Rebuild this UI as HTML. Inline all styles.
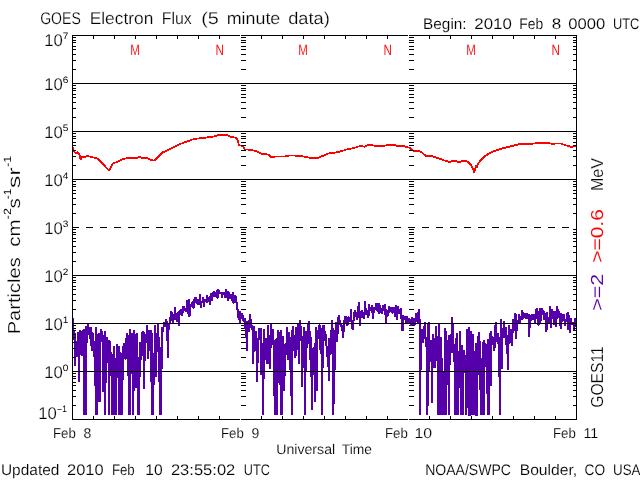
<!DOCTYPE html>
<html><head><meta charset="utf-8"><title>GOES Electron Flux</title>
<style>
html,body{margin:0;padding:0;background:#fff;}
body{width:640px;height:480px;overflow:hidden;font-family:"Liberation Sans",sans-serif;}
svg{display:block;will-change:transform;}
</style></head><body>
<svg width="640" height="480" viewBox="0 0 640 480" shape-rendering="crispEdges">
<rect width="640" height="480" fill="#fff"/>
<polyline points="72.6,146.8 74.1,151.5 76.1,153.5 78.1,152.1 79.7,155.5 80.6,159.6 81.4,157.0 84.2,157.2 87.3,156.0 90.3,156.6 94.4,157.8 98.4,159.0 101.5,162.7 104.5,165.7 107.6,169.0 109.0,170.8 110.6,168.0 112.7,163.7 116.7,162.0 122.8,159.0 128.9,157.8 137.0,158.0 140.1,156.8 142.1,158.0 147.2,157.8 151.3,160.2 154.3,160.6 157.3,157.6 162.4,152.5 171.6,148.4 181.7,143.4 191.9,139.7 196.1,138.7 204.2,137.9 214.4,136.3 220.5,134.6 226.6,134.6 230.6,136.7 236.3,137.8 237.7,140.3 238.8,145.0 242.8,146.2 244.8,149.4 250.9,149.8 257.0,151.5 262.1,154.1 268.2,154.5 271.3,157.0 275.3,156.6 285.5,156.4 289.5,155.5 299.7,155.7 305.8,157.0 311.9,158.0 318.1,157.8 322.2,156.2 328.3,153.5 338.4,152.1 346.6,149.5 354.7,147.8 360.8,145.8 364.4,146.8 368.9,144.8 375.0,145.8 384.1,145.8 388.2,144.8 393.3,144.8 397.3,145.8 403.4,146.0 409.5,147.8 413.6,150.9 420.7,151.5 426.2,156.2 431.9,156.0 437.0,157.8 439.4,158.7 446.0,161.0 450.0,162.0 453.8,160.6 455.6,160.8 458.0,162.3 459.8,162.3 461.7,160.8 465.0,160.8 468.3,162.3 471.1,165.3 473.0,169.0 474.2,172.6 475.5,168.1 476.0,164.8 476.7,167.6 478.1,163.4 480.9,160.2 484.7,156.4 489.4,153.1 495.0,150.8 500.6,148.9 506.2,147.5 512.0,146.0 521.4,143.7 528.4,144.1 535.5,143.4 543.7,142.7 551.9,143.7 560.1,143.4 565.9,145.3 571.8,147.0 575.3,145.8" fill="none" stroke="#ff0000" stroke-width="1.8" stroke-linejoin="bevel"/>
<rect x="241" y="405" width="5" height="1" fill="#000"/>
<rect x="409" y="405" width="5" height="1" fill="#000"/>
<rect x="241" y="396" width="5" height="1" fill="#000"/>
<rect x="409" y="396" width="5" height="1" fill="#000"/>
<rect x="241" y="390" width="5" height="1" fill="#000"/>
<rect x="409" y="390" width="5" height="1" fill="#000"/>
<rect x="241" y="385" width="5" height="1" fill="#000"/>
<rect x="409" y="385" width="5" height="1" fill="#000"/>
<rect x="241" y="382" width="5" height="1" fill="#000"/>
<rect x="409" y="382" width="5" height="1" fill="#000"/>
<rect x="241" y="378" width="5" height="1" fill="#000"/>
<rect x="409" y="378" width="5" height="1" fill="#000"/>
<rect x="241" y="376" width="5" height="1" fill="#000"/>
<rect x="409" y="376" width="5" height="1" fill="#000"/>
<rect x="241" y="373" width="5" height="1" fill="#000"/>
<rect x="409" y="373" width="5" height="1" fill="#000"/>
<rect x="241" y="357" width="5" height="1" fill="#000"/>
<rect x="409" y="357" width="5" height="1" fill="#000"/>
<rect x="241" y="348" width="5" height="1" fill="#000"/>
<rect x="409" y="348" width="5" height="1" fill="#000"/>
<rect x="241" y="342" width="5" height="1" fill="#000"/>
<rect x="409" y="342" width="5" height="1" fill="#000"/>
<rect x="241" y="337" width="5" height="1" fill="#000"/>
<rect x="409" y="337" width="5" height="1" fill="#000"/>
<rect x="241" y="334" width="5" height="1" fill="#000"/>
<rect x="409" y="334" width="5" height="1" fill="#000"/>
<rect x="241" y="330" width="5" height="1" fill="#000"/>
<rect x="409" y="330" width="5" height="1" fill="#000"/>
<rect x="241" y="328" width="5" height="1" fill="#000"/>
<rect x="409" y="328" width="5" height="1" fill="#000"/>
<rect x="241" y="325" width="5" height="1" fill="#000"/>
<rect x="409" y="325" width="5" height="1" fill="#000"/>
<rect x="241" y="309" width="5" height="1" fill="#000"/>
<rect x="409" y="309" width="5" height="1" fill="#000"/>
<rect x="241" y="300" width="5" height="1" fill="#000"/>
<rect x="409" y="300" width="5" height="1" fill="#000"/>
<rect x="241" y="294" width="5" height="1" fill="#000"/>
<rect x="409" y="294" width="5" height="1" fill="#000"/>
<rect x="241" y="289" width="5" height="1" fill="#000"/>
<rect x="409" y="289" width="5" height="1" fill="#000"/>
<rect x="241" y="286" width="5" height="1" fill="#000"/>
<rect x="409" y="286" width="5" height="1" fill="#000"/>
<rect x="241" y="282" width="5" height="1" fill="#000"/>
<rect x="409" y="282" width="5" height="1" fill="#000"/>
<rect x="241" y="280" width="5" height="1" fill="#000"/>
<rect x="409" y="280" width="5" height="1" fill="#000"/>
<rect x="241" y="277" width="5" height="1" fill="#000"/>
<rect x="409" y="277" width="5" height="1" fill="#000"/>
<rect x="241" y="261" width="5" height="1" fill="#000"/>
<rect x="409" y="261" width="5" height="1" fill="#000"/>
<rect x="241" y="252" width="5" height="1" fill="#000"/>
<rect x="409" y="252" width="5" height="1" fill="#000"/>
<rect x="241" y="246" width="5" height="1" fill="#000"/>
<rect x="409" y="246" width="5" height="1" fill="#000"/>
<rect x="241" y="241" width="5" height="1" fill="#000"/>
<rect x="409" y="241" width="5" height="1" fill="#000"/>
<rect x="241" y="238" width="5" height="1" fill="#000"/>
<rect x="409" y="238" width="5" height="1" fill="#000"/>
<rect x="241" y="234" width="5" height="1" fill="#000"/>
<rect x="409" y="234" width="5" height="1" fill="#000"/>
<rect x="241" y="232" width="5" height="1" fill="#000"/>
<rect x="409" y="232" width="5" height="1" fill="#000"/>
<rect x="241" y="229" width="5" height="1" fill="#000"/>
<rect x="409" y="229" width="5" height="1" fill="#000"/>
<rect x="241" y="213" width="5" height="1" fill="#000"/>
<rect x="409" y="213" width="5" height="1" fill="#000"/>
<rect x="241" y="204" width="5" height="1" fill="#000"/>
<rect x="409" y="204" width="5" height="1" fill="#000"/>
<rect x="241" y="198" width="5" height="1" fill="#000"/>
<rect x="409" y="198" width="5" height="1" fill="#000"/>
<rect x="241" y="193" width="5" height="1" fill="#000"/>
<rect x="409" y="193" width="5" height="1" fill="#000"/>
<rect x="241" y="190" width="5" height="1" fill="#000"/>
<rect x="409" y="190" width="5" height="1" fill="#000"/>
<rect x="241" y="186" width="5" height="1" fill="#000"/>
<rect x="409" y="186" width="5" height="1" fill="#000"/>
<rect x="241" y="184" width="5" height="1" fill="#000"/>
<rect x="409" y="184" width="5" height="1" fill="#000"/>
<rect x="241" y="181" width="5" height="1" fill="#000"/>
<rect x="409" y="181" width="5" height="1" fill="#000"/>
<rect x="241" y="165" width="5" height="1" fill="#000"/>
<rect x="409" y="165" width="5" height="1" fill="#000"/>
<rect x="241" y="156" width="5" height="1" fill="#000"/>
<rect x="409" y="156" width="5" height="1" fill="#000"/>
<rect x="241" y="150" width="5" height="1" fill="#000"/>
<rect x="409" y="150" width="5" height="1" fill="#000"/>
<rect x="241" y="145" width="5" height="1" fill="#000"/>
<rect x="409" y="145" width="5" height="1" fill="#000"/>
<rect x="241" y="142" width="5" height="1" fill="#000"/>
<rect x="409" y="142" width="5" height="1" fill="#000"/>
<rect x="241" y="138" width="5" height="1" fill="#000"/>
<rect x="409" y="138" width="5" height="1" fill="#000"/>
<rect x="241" y="136" width="5" height="1" fill="#000"/>
<rect x="409" y="136" width="5" height="1" fill="#000"/>
<rect x="241" y="133" width="5" height="1" fill="#000"/>
<rect x="409" y="133" width="5" height="1" fill="#000"/>
<rect x="241" y="117" width="5" height="1" fill="#000"/>
<rect x="409" y="117" width="5" height="1" fill="#000"/>
<rect x="241" y="108" width="5" height="1" fill="#000"/>
<rect x="409" y="108" width="5" height="1" fill="#000"/>
<rect x="241" y="102" width="5" height="1" fill="#000"/>
<rect x="409" y="102" width="5" height="1" fill="#000"/>
<rect x="241" y="97" width="5" height="1" fill="#000"/>
<rect x="409" y="97" width="5" height="1" fill="#000"/>
<rect x="241" y="94" width="5" height="1" fill="#000"/>
<rect x="409" y="94" width="5" height="1" fill="#000"/>
<rect x="241" y="90" width="5" height="1" fill="#000"/>
<rect x="409" y="90" width="5" height="1" fill="#000"/>
<rect x="241" y="88" width="5" height="1" fill="#000"/>
<rect x="409" y="88" width="5" height="1" fill="#000"/>
<rect x="241" y="85" width="5" height="1" fill="#000"/>
<rect x="409" y="85" width="5" height="1" fill="#000"/>
<rect x="241" y="69" width="5" height="1" fill="#000"/>
<rect x="409" y="69" width="5" height="1" fill="#000"/>
<rect x="241" y="60" width="5" height="1" fill="#000"/>
<rect x="409" y="60" width="5" height="1" fill="#000"/>
<rect x="241" y="54" width="5" height="1" fill="#000"/>
<rect x="409" y="54" width="5" height="1" fill="#000"/>
<rect x="241" y="49" width="5" height="1" fill="#000"/>
<rect x="409" y="49" width="5" height="1" fill="#000"/>
<rect x="241" y="46" width="5" height="1" fill="#000"/>
<rect x="409" y="46" width="5" height="1" fill="#000"/>
<rect x="241" y="42" width="5" height="1" fill="#000"/>
<rect x="409" y="42" width="5" height="1" fill="#000"/>
<rect x="241" y="40" width="5" height="1" fill="#000"/>
<rect x="409" y="40" width="5" height="1" fill="#000"/>
<rect x="241" y="37" width="5" height="1" fill="#000"/>
<rect x="409" y="37" width="5" height="1" fill="#000"/>
<polyline points="73.0,318.0 74.0,340.0 74.0,334.0 75.0,334.0 75.0,366.0 76.0,343.0 77.0,357.0 77.0,350.0 78.0,333.0 78.0,332.0 79.0,338.0 79.0,382.0 80.0,330.0 81.0,332.0 81.0,331.0 82.0,333.0 82.0,356.0 83.0,331.0 84.0,329.0 84.0,415.0 85.0,348.0 85.0,340.0 86.0,415.0 86.0,326.0 87.0,343.0 88.0,323.0 88.0,327.0 89.0,328.0 89.0,335.0 90.0,332.0 91.0,346.0 91.0,327.0 92.0,351.0 92.0,332.0 93.0,342.0 93.0,333.0 94.0,357.0 95.0,341.0 95.0,356.0 96.0,415.0 96.0,327.0 97.0,415.0 98.0,334.0 98.0,402.0 99.0,333.0 99.0,346.0 100.0,402.0 100.0,357.0 101.0,329.0 102.0,335.0 102.0,331.0 103.0,339.0 103.0,392.0 104.0,354.0 105.0,331.0 105.0,415.0 106.0,353.0 106.0,357.0 107.0,337.0 107.0,363.0 108.0,346.0 109.0,340.0 109.0,415.0 110.0,341.0 110.0,365.0 111.0,352.0 112.0,357.0 112.0,415.0 113.0,365.0 113.0,363.0 114.0,415.0 114.0,346.0 115.0,368.0 116.0,372.0 116.0,415.0 117.0,344.0 117.0,367.0 118.0,362.0 119.0,346.0 119.0,415.0 120.0,368.0 120.0,352.0 121.0,415.0 121.0,353.0 122.0,415.0 123.0,348.0 123.0,347.0 124.0,347.0 124.0,343.0 125.0,359.0 126.0,358.0 126.0,343.0 127.0,333.0 127.0,337.0 128.0,357.0 128.0,335.0 129.0,415.0 130.0,329.0 130.0,415.0 131.0,336.0 131.0,358.0 132.0,333.0 133.0,360.0 133.0,415.0 134.0,330.0 134.0,391.0 135.0,334.0 135.0,340.0 136.0,388.0 137.0,336.0 137.0,333.0 138.0,415.0 138.0,357.0 139.0,415.0 140.0,342.0 140.0,363.0 141.0,357.0 141.0,355.0 142.0,356.0 142.0,333.0 143.0,332.0 144.0,333.0 144.0,389.0 145.0,335.0 145.0,334.0 146.0,343.0 147.0,325.0 147.0,334.0 148.0,339.0 148.0,359.0 149.0,344.0 149.0,330.0 150.0,347.0 151.0,330.0 151.0,348.0 152.0,415.0 152.0,333.0 153.0,415.0 154.0,357.0 154.0,381.0 155.0,325.0 155.0,366.0 156.0,377.0 156.0,333.0 157.0,340.0 158.0,352.0 158.0,324.0 159.0,348.0 159.0,348.0 160.0,415.0 161.0,347.0 161.0,415.0 162.0,327.0 162.0,328.0 163.0,332.0 163.0,332.0 164.0,323.0 165.0,323.0 165.0,322.0 166.0,327.0 166.0,319.0 167.0,323.0 168.0,358.0 168.0,325.0 169.0,330.0 169.0,329.0 170.0,319.0 170.0,323.0 171.0,311.0 172.0,313.0 172.0,318.0 173.0,324.0 173.0,321.0 174.0,314.0 175.0,320.0 175.0,307.0 176.0,318.0 176.0,314.0 177.0,319.0 177.0,322.0 178.0,312.0 179.0,326.0 179.0,311.0 180.0,315.0 180.0,311.0 181.0,310.0 182.0,310.0 182.0,316.0 183.0,310.0 183.0,307.0 184.0,307.0 184.0,310.0 185.0,309.0 186.0,311.0 186.0,312.0 187.0,308.0 187.0,300.0 188.0,314.0 189.0,299.0 189.0,317.0 190.0,315.0 190.0,304.0 191.0,307.0 191.0,306.0 192.0,302.0 193.0,303.0 193.0,308.0 194.0,307.0 194.0,301.0 195.0,298.0 196.0,298.0 196.0,301.0 197.0,304.0 197.0,304.0 198.0,299.0 198.0,304.0 199.0,304.0 200.0,303.0 200.0,294.0 201.0,308.0 201.0,305.0 202.0,301.0 203.0,302.0 203.0,297.0 204.0,307.0 204.0,299.0 205.0,301.0 205.0,301.0 206.0,300.0 207.0,303.0 207.0,295.0 208.0,300.0 208.0,298.0 209.0,299.0 210.0,305.0 210.0,300.0 211.0,293.0 211.0,300.0 212.0,300.0 212.0,300.0 213.0,292.0 214.0,297.0 214.0,291.0 215.0,297.0 215.0,296.0 216.0,294.0 217.0,290.0 217.0,297.0 218.0,298.0 218.0,289.0 219.0,291.0 219.0,292.0 220.0,294.0 221.0,292.0 221.0,292.0 222.0,296.0 222.0,298.0 223.0,292.0 224.0,295.0 224.0,292.0 225.0,298.0 225.0,294.0 226.0,296.0 226.0,289.0 227.0,294.0 228.0,301.0 228.0,291.0 229.0,295.0 229.0,292.0 230.0,299.0 231.0,294.0 231.0,296.0 232.0,297.0 232.0,301.0 233.0,292.0 233.0,303.0 234.0,302.0 235.0,299.0 235.0,295.0 236.0,297.0 236.0,301.0 237.0,304.0 238.0,315.0 238.0,318.0 239.0,316.0 239.0,317.0 240.0,323.0 240.0,311.0 241.0,316.0 242.0,319.0 242.0,313.0 243.0,318.0 243.0,321.0 244.0,320.0 245.0,318.0 245.0,329.0 246.0,328.0 246.0,324.0 247.0,351.0 247.0,322.0 248.0,322.0 249.0,320.0 249.0,332.0 250.0,324.0 250.0,314.0 251.0,324.0 252.0,326.0 252.0,328.0 253.0,332.0 253.0,364.0 254.0,340.0 254.0,326.0 255.0,347.0 256.0,331.0 256.0,351.0 257.0,349.0 257.0,382.0 258.0,345.0 259.0,331.0 259.0,328.0 260.0,336.0 260.0,340.0 261.0,328.0 261.0,375.0 262.0,343.0 263.0,347.0 263.0,415.0 264.0,346.0 264.0,329.0 265.0,346.0 266.0,344.0 266.0,356.0 267.0,364.0 267.0,351.0 268.0,325.0 268.0,363.0 269.0,362.0 270.0,335.0 270.0,369.0 271.0,327.0 271.0,324.0 272.0,345.0 273.0,329.0 273.0,335.0 274.0,353.0 274.0,375.0 275.0,415.0 275.0,341.0 276.0,340.0 277.0,338.0 277.0,415.0 278.0,354.0 278.0,330.0 279.0,335.0 280.0,342.0 280.0,353.0 281.0,415.0 281.0,330.0 282.0,415.0 282.0,361.0 283.0,336.0 284.0,352.0 284.0,391.0 285.0,363.0 285.0,356.0 286.0,353.0 287.0,333.0 287.0,327.0 288.0,351.0 288.0,360.0 289.0,332.0 289.0,332.0 290.0,343.0 291.0,396.0 291.0,337.0 292.0,415.0 292.0,334.0 293.0,326.0 294.0,343.0 294.0,351.0 295.0,340.0 295.0,358.0 296.0,354.0 296.0,327.0 297.0,333.0 298.0,350.0 298.0,324.0 299.0,356.0 299.0,364.0 300.0,320.0 301.0,334.0 301.0,326.0 302.0,346.0 302.0,387.0 303.0,350.0 303.0,348.0 304.0,327.0 305.0,350.0 305.0,415.0 306.0,331.0 306.0,350.0 307.0,346.0 308.0,341.0 308.0,324.0 309.0,343.0 309.0,321.0 310.0,360.0 310.0,331.0 311.0,342.0 312.0,410.0 312.0,363.0 313.0,348.0 313.0,354.0 314.0,347.0 315.0,402.0 315.0,343.0 316.0,356.0 316.0,327.0 317.0,391.0 317.0,330.0 318.0,339.0 319.0,333.0 319.0,325.0 320.0,326.0 320.0,350.0 321.0,328.0 322.0,378.0 322.0,415.0 323.0,325.0 323.0,331.0 324.0,341.0 324.0,325.0 325.0,336.0 326.0,340.0 326.0,334.0 327.0,357.0 327.0,356.0 328.0,353.0 329.0,381.0 329.0,338.0 330.0,352.0 330.0,353.0 331.0,354.0 331.0,340.0 332.0,320.0 333.0,336.0 333.0,415.0 334.0,331.0 334.0,404.0 335.0,339.0 336.0,322.0 336.0,326.0 337.0,327.0 337.0,342.0 338.0,326.0 338.0,320.0 339.0,315.0 340.0,325.0 340.0,321.0 341.0,327.0 341.0,323.0 342.0,327.0 343.0,334.0 343.0,338.0 344.0,326.0 344.0,324.0 345.0,316.0 345.0,323.0 346.0,316.0 347.0,324.0 347.0,326.0 348.0,323.0 348.0,317.0 349.0,318.0 350.0,322.0 350.0,321.0 351.0,315.0 351.0,309.0 352.0,329.0 352.0,322.0 353.0,330.0 354.0,312.0 354.0,320.0 355.0,310.0 355.0,317.0 356.0,313.0 357.0,314.0 357.0,320.0 358.0,315.0 358.0,306.0 359.0,312.0 359.0,302.0 360.0,326.0 361.0,311.0 361.0,315.0 362.0,315.0 362.0,310.0 363.0,316.0 364.0,319.0 364.0,312.0 365.0,315.0 365.0,301.0 366.0,315.0 366.0,309.0 367.0,311.0 368.0,314.0 368.0,318.0 369.0,314.0 369.0,304.0 370.0,309.0 371.0,307.0 371.0,311.0 372.0,305.0 372.0,312.0 373.0,313.0 373.0,319.0 374.0,308.0 375.0,308.0 375.0,307.0 376.0,310.0 376.0,303.0 377.0,310.0 378.0,311.0 378.0,304.0 379.0,304.0 379.0,314.0 380.0,305.0 380.0,306.0 381.0,313.0 382.0,308.0 382.0,314.0 383.0,308.0 383.0,305.0 384.0,310.0 385.0,304.0 385.0,305.0 386.0,324.0 386.0,309.0 387.0,311.0 387.0,316.0 388.0,315.0 389.0,310.0 389.0,306.0 390.0,309.0 390.0,311.0 391.0,310.0 392.0,307.0 392.0,313.0 393.0,312.0 393.0,313.0 394.0,307.0 394.0,308.0 395.0,317.0 396.0,305.0 396.0,314.0 397.0,310.0 397.0,320.0 398.0,306.0 399.0,312.0 399.0,313.0 400.0,313.0 400.0,312.0 401.0,313.0 401.0,308.0 402.0,330.0 403.0,330.0 403.0,315.0 404.0,320.0 404.0,316.0 405.0,319.0 406.0,316.0 406.0,323.0 407.0,316.0 407.0,319.0 408.0,318.0 408.0,324.0 409.0,318.0 410.0,324.0 410.0,320.0 411.0,326.0 411.0,321.0 412.0,317.0 413.0,320.0 413.0,325.0 414.0,319.0 414.0,324.0 415.0,325.0 415.0,323.0 416.0,313.0 417.0,320.0 417.0,322.0 418.0,312.0 418.0,323.0 419.0,309.0 420.0,328.0 420.0,415.0 421.0,330.0 421.0,341.0 422.0,329.0 422.0,337.0 423.0,343.0 424.0,336.0 424.0,330.0 425.0,322.0 425.0,326.0 426.0,347.0 427.0,346.0 427.0,415.0 428.0,398.0 428.0,327.0 429.0,322.0 429.0,372.0 430.0,353.0 431.0,342.0 431.0,340.0 432.0,345.0 432.0,403.0 433.0,334.0 434.0,350.0 434.0,368.0 435.0,338.0 435.0,368.0 436.0,355.0 436.0,326.0 437.0,345.0 438.0,340.0 438.0,415.0 439.0,324.0 439.0,327.0 440.0,415.0 441.0,337.0 441.0,360.0 442.0,415.0 442.0,358.0 443.0,399.0 443.0,399.0 444.0,415.0 445.0,328.0 445.0,347.0 446.0,415.0 446.0,331.0 447.0,349.0 448.0,340.0 448.0,353.0 449.0,415.0 449.0,335.0 450.0,365.0 450.0,364.0 451.0,334.0 452.0,353.0 452.0,317.0 453.0,353.0 453.0,323.0 454.0,362.0 455.0,358.0 455.0,415.0 456.0,338.0 456.0,365.0 457.0,415.0 457.0,333.0 458.0,415.0 459.0,364.0 459.0,354.0 460.0,349.0 460.0,331.0 461.0,415.0 462.0,345.0 462.0,377.0 463.0,415.0 463.0,352.0 464.0,373.0 464.0,350.0 465.0,362.0 466.0,355.0 466.0,415.0 467.0,334.0 467.0,329.0 468.0,408.0 469.0,327.0 469.0,415.0 470.0,415.0 470.0,345.0 471.0,333.0 471.0,331.0 472.0,415.0 473.0,334.0 473.0,358.0 474.0,415.0 474.0,372.0 475.0,360.0 476.0,343.0 476.0,415.0 477.0,415.0 477.0,412.0 478.0,341.0 478.0,340.0 479.0,332.0 480.0,349.0 480.0,364.0 481.0,415.0 481.0,358.0 482.0,415.0 483.0,342.0 483.0,398.0 484.0,415.0 484.0,340.0 485.0,367.0 485.0,343.0 486.0,346.0 487.0,362.0 487.0,371.0 488.0,415.0 488.0,339.0 489.0,415.0 490.0,343.0 490.0,333.0 491.0,386.0 491.0,331.0 492.0,340.0 492.0,345.0 493.0,340.0 494.0,337.0 494.0,351.0 495.0,345.0 495.0,328.0 496.0,322.0 497.0,342.0 497.0,334.0 498.0,334.0 498.0,344.0 499.0,343.0 499.0,337.0 500.0,415.0 501.0,325.0 501.0,319.0 502.0,369.0 502.0,341.0 503.0,328.0 504.0,338.0 504.0,321.0 505.0,335.0 505.0,331.0 506.0,327.0 506.0,345.0 507.0,336.0 508.0,370.0 508.0,335.0 509.0,344.0 509.0,325.0 510.0,341.0 511.0,342.0 511.0,329.0 512.0,339.0 512.0,346.0 513.0,320.0 513.0,319.0 514.0,331.0 515.0,329.0 515.0,313.0 516.0,316.0 516.0,339.0 517.0,323.0 518.0,323.0 518.0,324.0 519.0,317.0 519.0,314.0 520.0,322.0 520.0,323.0 521.0,316.0 522.0,320.0 522.0,310.0 523.0,315.0 523.0,317.0 524.0,318.0 525.0,313.0 525.0,315.0 526.0,319.0 526.0,314.0 527.0,318.0 527.0,313.0 528.0,319.0 529.0,314.0 529.0,337.0 530.0,319.0 530.0,327.0 531.0,316.0 532.0,314.0 532.0,317.0 533.0,320.0 533.0,317.0 534.0,315.0 534.0,314.0 535.0,323.0 536.0,309.0 536.0,316.0 537.0,308.0 537.0,314.0 538.0,324.0 539.0,325.0 539.0,311.0 540.0,323.0 540.0,308.0 541.0,321.0 541.0,312.0 542.0,308.0 543.0,315.0 543.0,311.0 544.0,312.0 544.0,320.0 545.0,313.0 546.0,316.0 546.0,332.0 547.0,327.0 547.0,312.0 548.0,324.0 548.0,318.0 549.0,318.0 550.0,323.0 550.0,306.0 551.0,328.0 551.0,323.0 552.0,309.0 553.0,313.0 553.0,313.0 554.0,325.0 554.0,315.0 555.0,313.0 555.0,311.0 556.0,327.0 557.0,311.0 557.0,306.0 558.0,313.0 558.0,318.0 559.0,311.0 560.0,320.0 560.0,326.0 561.0,313.0 561.0,329.0 562.0,315.0 562.0,316.0 563.0,314.0 564.0,321.0 564.0,314.0 565.0,326.0 565.0,324.0 566.0,320.0 567.0,319.0 567.0,315.0 568.0,312.0 568.0,330.0 569.0,315.0 569.0,316.0 570.0,333.0 571.0,318.0 571.0,325.0 572.0,322.0 572.0,324.0 573.0,324.0 574.0,322.0 574.0,330.0 575.0,318.0 575.0,320.0 576.0,322.0 576.0,327.0" fill="none" stroke="#5500aa" stroke-width="2" stroke-linejoin="miter" stroke-miterlimit="2"/>
<rect x="72" y="35" width="168" height="1" fill="#000"/>
<rect x="241" y="35" width="167" height="1" fill="#000"/>
<rect x="409" y="35" width="168" height="1" fill="#000"/>
<rect x="72" y="419" width="168" height="1" fill="#000"/>
<rect x="241" y="419" width="167" height="1" fill="#000"/>
<rect x="409" y="419" width="168" height="1" fill="#000"/>
<rect x="72" y="35" width="1" height="385" fill="#000"/>
<rect x="576" y="35" width="1" height="385" fill="#000"/>
<rect x="72" y="83" width="505" height="1" fill="#000"/>
<rect x="72" y="131" width="505" height="1" fill="#000"/>
<rect x="72" y="179" width="505" height="1" fill="#000"/>
<rect x="72" y="275" width="505" height="1" fill="#000"/>
<rect x="72" y="323" width="505" height="1" fill="#000"/>
<rect x="72" y="371" width="505" height="1" fill="#000"/>
<rect x="72" y="227" width="7" height="1" fill="#000"/>
<rect x="86" y="227" width="7" height="1" fill="#000"/>
<rect x="100" y="227" width="7" height="1" fill="#000"/>
<rect x="114" y="227" width="7" height="1" fill="#000"/>
<rect x="128" y="227" width="7" height="1" fill="#000"/>
<rect x="142" y="227" width="7" height="1" fill="#000"/>
<rect x="156" y="227" width="7" height="1" fill="#000"/>
<rect x="170" y="227" width="7" height="1" fill="#000"/>
<rect x="184" y="227" width="7" height="1" fill="#000"/>
<rect x="198" y="227" width="7" height="1" fill="#000"/>
<rect x="212" y="227" width="7" height="1" fill="#000"/>
<rect x="226" y="227" width="7" height="1" fill="#000"/>
<rect x="240" y="227" width="7" height="1" fill="#000"/>
<rect x="254" y="227" width="7" height="1" fill="#000"/>
<rect x="268" y="227" width="7" height="1" fill="#000"/>
<rect x="282" y="227" width="7" height="1" fill="#000"/>
<rect x="296" y="227" width="7" height="1" fill="#000"/>
<rect x="310" y="227" width="7" height="1" fill="#000"/>
<rect x="324" y="227" width="7" height="1" fill="#000"/>
<rect x="338" y="227" width="7" height="1" fill="#000"/>
<rect x="352" y="227" width="7" height="1" fill="#000"/>
<rect x="366" y="227" width="7" height="1" fill="#000"/>
<rect x="380" y="227" width="7" height="1" fill="#000"/>
<rect x="394" y="227" width="7" height="1" fill="#000"/>
<rect x="408" y="227" width="7" height="1" fill="#000"/>
<rect x="422" y="227" width="7" height="1" fill="#000"/>
<rect x="436" y="227" width="7" height="1" fill="#000"/>
<rect x="450" y="227" width="7" height="1" fill="#000"/>
<rect x="464" y="227" width="7" height="1" fill="#000"/>
<rect x="478" y="227" width="7" height="1" fill="#000"/>
<rect x="492" y="227" width="7" height="1" fill="#000"/>
<rect x="506" y="227" width="7" height="1" fill="#000"/>
<rect x="520" y="227" width="7" height="1" fill="#000"/>
<rect x="534" y="227" width="7" height="1" fill="#000"/>
<rect x="548" y="227" width="7" height="1" fill="#000"/>
<rect x="562" y="227" width="7" height="1" fill="#000"/>
<rect x="576" y="227" width="1" height="1" fill="#000"/>
<rect x="93" y="36" width="1" height="3" fill="#000"/>
<rect x="93" y="416" width="1" height="3" fill="#000"/>
<rect x="114" y="36" width="1" height="3" fill="#000"/>
<rect x="114" y="416" width="1" height="3" fill="#000"/>
<rect x="135" y="36" width="1" height="3" fill="#000"/>
<rect x="135" y="416" width="1" height="3" fill="#000"/>
<rect x="156" y="36" width="1" height="3" fill="#000"/>
<rect x="156" y="416" width="1" height="3" fill="#000"/>
<rect x="177" y="36" width="1" height="3" fill="#000"/>
<rect x="177" y="416" width="1" height="3" fill="#000"/>
<rect x="198" y="36" width="1" height="3" fill="#000"/>
<rect x="198" y="416" width="1" height="3" fill="#000"/>
<rect x="219" y="36" width="1" height="3" fill="#000"/>
<rect x="219" y="416" width="1" height="3" fill="#000"/>
<rect x="261" y="36" width="1" height="3" fill="#000"/>
<rect x="261" y="416" width="1" height="3" fill="#000"/>
<rect x="282" y="36" width="1" height="3" fill="#000"/>
<rect x="282" y="416" width="1" height="3" fill="#000"/>
<rect x="303" y="36" width="1" height="3" fill="#000"/>
<rect x="303" y="416" width="1" height="3" fill="#000"/>
<rect x="324" y="36" width="1" height="3" fill="#000"/>
<rect x="324" y="416" width="1" height="3" fill="#000"/>
<rect x="345" y="36" width="1" height="3" fill="#000"/>
<rect x="345" y="416" width="1" height="3" fill="#000"/>
<rect x="366" y="36" width="1" height="3" fill="#000"/>
<rect x="366" y="416" width="1" height="3" fill="#000"/>
<rect x="387" y="36" width="1" height="3" fill="#000"/>
<rect x="387" y="416" width="1" height="3" fill="#000"/>
<rect x="429" y="36" width="1" height="3" fill="#000"/>
<rect x="429" y="416" width="1" height="3" fill="#000"/>
<rect x="450" y="36" width="1" height="3" fill="#000"/>
<rect x="450" y="416" width="1" height="3" fill="#000"/>
<rect x="471" y="36" width="1" height="3" fill="#000"/>
<rect x="471" y="416" width="1" height="3" fill="#000"/>
<rect x="492" y="36" width="1" height="3" fill="#000"/>
<rect x="492" y="416" width="1" height="3" fill="#000"/>
<rect x="513" y="36" width="1" height="3" fill="#000"/>
<rect x="513" y="416" width="1" height="3" fill="#000"/>
<rect x="534" y="36" width="1" height="3" fill="#000"/>
<rect x="534" y="416" width="1" height="3" fill="#000"/>
<rect x="555" y="36" width="1" height="3" fill="#000"/>
<rect x="555" y="416" width="1" height="3" fill="#000"/>
<rect x="73" y="405" width="3" height="1" fill="#000"/>
<rect x="573" y="405" width="3" height="1" fill="#000"/>
<rect x="73" y="396" width="3" height="1" fill="#000"/>
<rect x="573" y="396" width="3" height="1" fill="#000"/>
<rect x="73" y="390" width="3" height="1" fill="#000"/>
<rect x="573" y="390" width="3" height="1" fill="#000"/>
<rect x="73" y="385" width="3" height="1" fill="#000"/>
<rect x="573" y="385" width="3" height="1" fill="#000"/>
<rect x="73" y="382" width="3" height="1" fill="#000"/>
<rect x="573" y="382" width="3" height="1" fill="#000"/>
<rect x="73" y="378" width="3" height="1" fill="#000"/>
<rect x="573" y="378" width="3" height="1" fill="#000"/>
<rect x="73" y="376" width="3" height="1" fill="#000"/>
<rect x="573" y="376" width="3" height="1" fill="#000"/>
<rect x="73" y="373" width="3" height="1" fill="#000"/>
<rect x="573" y="373" width="3" height="1" fill="#000"/>
<rect x="73" y="357" width="3" height="1" fill="#000"/>
<rect x="573" y="357" width="3" height="1" fill="#000"/>
<rect x="73" y="348" width="3" height="1" fill="#000"/>
<rect x="573" y="348" width="3" height="1" fill="#000"/>
<rect x="73" y="342" width="3" height="1" fill="#000"/>
<rect x="573" y="342" width="3" height="1" fill="#000"/>
<rect x="73" y="337" width="3" height="1" fill="#000"/>
<rect x="573" y="337" width="3" height="1" fill="#000"/>
<rect x="73" y="334" width="3" height="1" fill="#000"/>
<rect x="573" y="334" width="3" height="1" fill="#000"/>
<rect x="73" y="330" width="3" height="1" fill="#000"/>
<rect x="573" y="330" width="3" height="1" fill="#000"/>
<rect x="73" y="328" width="3" height="1" fill="#000"/>
<rect x="573" y="328" width="3" height="1" fill="#000"/>
<rect x="73" y="325" width="3" height="1" fill="#000"/>
<rect x="573" y="325" width="3" height="1" fill="#000"/>
<rect x="73" y="309" width="3" height="1" fill="#000"/>
<rect x="573" y="309" width="3" height="1" fill="#000"/>
<rect x="73" y="300" width="3" height="1" fill="#000"/>
<rect x="573" y="300" width="3" height="1" fill="#000"/>
<rect x="73" y="294" width="3" height="1" fill="#000"/>
<rect x="573" y="294" width="3" height="1" fill="#000"/>
<rect x="73" y="289" width="3" height="1" fill="#000"/>
<rect x="573" y="289" width="3" height="1" fill="#000"/>
<rect x="73" y="286" width="3" height="1" fill="#000"/>
<rect x="573" y="286" width="3" height="1" fill="#000"/>
<rect x="73" y="282" width="3" height="1" fill="#000"/>
<rect x="573" y="282" width="3" height="1" fill="#000"/>
<rect x="73" y="280" width="3" height="1" fill="#000"/>
<rect x="573" y="280" width="3" height="1" fill="#000"/>
<rect x="73" y="277" width="3" height="1" fill="#000"/>
<rect x="573" y="277" width="3" height="1" fill="#000"/>
<rect x="73" y="261" width="3" height="1" fill="#000"/>
<rect x="573" y="261" width="3" height="1" fill="#000"/>
<rect x="73" y="252" width="3" height="1" fill="#000"/>
<rect x="573" y="252" width="3" height="1" fill="#000"/>
<rect x="73" y="246" width="3" height="1" fill="#000"/>
<rect x="573" y="246" width="3" height="1" fill="#000"/>
<rect x="73" y="241" width="3" height="1" fill="#000"/>
<rect x="573" y="241" width="3" height="1" fill="#000"/>
<rect x="73" y="238" width="3" height="1" fill="#000"/>
<rect x="573" y="238" width="3" height="1" fill="#000"/>
<rect x="73" y="234" width="3" height="1" fill="#000"/>
<rect x="573" y="234" width="3" height="1" fill="#000"/>
<rect x="73" y="232" width="3" height="1" fill="#000"/>
<rect x="573" y="232" width="3" height="1" fill="#000"/>
<rect x="73" y="229" width="3" height="1" fill="#000"/>
<rect x="573" y="229" width="3" height="1" fill="#000"/>
<rect x="73" y="213" width="3" height="1" fill="#000"/>
<rect x="573" y="213" width="3" height="1" fill="#000"/>
<rect x="73" y="204" width="3" height="1" fill="#000"/>
<rect x="573" y="204" width="3" height="1" fill="#000"/>
<rect x="73" y="198" width="3" height="1" fill="#000"/>
<rect x="573" y="198" width="3" height="1" fill="#000"/>
<rect x="73" y="193" width="3" height="1" fill="#000"/>
<rect x="573" y="193" width="3" height="1" fill="#000"/>
<rect x="73" y="190" width="3" height="1" fill="#000"/>
<rect x="573" y="190" width="3" height="1" fill="#000"/>
<rect x="73" y="186" width="3" height="1" fill="#000"/>
<rect x="573" y="186" width="3" height="1" fill="#000"/>
<rect x="73" y="184" width="3" height="1" fill="#000"/>
<rect x="573" y="184" width="3" height="1" fill="#000"/>
<rect x="73" y="181" width="3" height="1" fill="#000"/>
<rect x="573" y="181" width="3" height="1" fill="#000"/>
<rect x="73" y="165" width="3" height="1" fill="#000"/>
<rect x="573" y="165" width="3" height="1" fill="#000"/>
<rect x="73" y="156" width="3" height="1" fill="#000"/>
<rect x="573" y="156" width="3" height="1" fill="#000"/>
<rect x="73" y="150" width="3" height="1" fill="#000"/>
<rect x="573" y="150" width="3" height="1" fill="#000"/>
<rect x="73" y="145" width="3" height="1" fill="#000"/>
<rect x="573" y="145" width="3" height="1" fill="#000"/>
<rect x="73" y="142" width="3" height="1" fill="#000"/>
<rect x="573" y="142" width="3" height="1" fill="#000"/>
<rect x="73" y="138" width="3" height="1" fill="#000"/>
<rect x="573" y="138" width="3" height="1" fill="#000"/>
<rect x="73" y="136" width="3" height="1" fill="#000"/>
<rect x="573" y="136" width="3" height="1" fill="#000"/>
<rect x="73" y="133" width="3" height="1" fill="#000"/>
<rect x="573" y="133" width="3" height="1" fill="#000"/>
<rect x="73" y="117" width="3" height="1" fill="#000"/>
<rect x="573" y="117" width="3" height="1" fill="#000"/>
<rect x="73" y="108" width="3" height="1" fill="#000"/>
<rect x="573" y="108" width="3" height="1" fill="#000"/>
<rect x="73" y="102" width="3" height="1" fill="#000"/>
<rect x="573" y="102" width="3" height="1" fill="#000"/>
<rect x="73" y="97" width="3" height="1" fill="#000"/>
<rect x="573" y="97" width="3" height="1" fill="#000"/>
<rect x="73" y="94" width="3" height="1" fill="#000"/>
<rect x="573" y="94" width="3" height="1" fill="#000"/>
<rect x="73" y="90" width="3" height="1" fill="#000"/>
<rect x="573" y="90" width="3" height="1" fill="#000"/>
<rect x="73" y="88" width="3" height="1" fill="#000"/>
<rect x="573" y="88" width="3" height="1" fill="#000"/>
<rect x="73" y="85" width="3" height="1" fill="#000"/>
<rect x="573" y="85" width="3" height="1" fill="#000"/>
<rect x="73" y="69" width="3" height="1" fill="#000"/>
<rect x="573" y="69" width="3" height="1" fill="#000"/>
<rect x="73" y="60" width="3" height="1" fill="#000"/>
<rect x="573" y="60" width="3" height="1" fill="#000"/>
<rect x="73" y="54" width="3" height="1" fill="#000"/>
<rect x="573" y="54" width="3" height="1" fill="#000"/>
<rect x="73" y="49" width="3" height="1" fill="#000"/>
<rect x="573" y="49" width="3" height="1" fill="#000"/>
<rect x="73" y="46" width="3" height="1" fill="#000"/>
<rect x="573" y="46" width="3" height="1" fill="#000"/>
<rect x="73" y="42" width="3" height="1" fill="#000"/>
<rect x="573" y="42" width="3" height="1" fill="#000"/>
<rect x="73" y="40" width="3" height="1" fill="#000"/>
<rect x="573" y="40" width="3" height="1" fill="#000"/>
<rect x="73" y="37" width="3" height="1" fill="#000"/>
<rect x="573" y="37" width="3" height="1" fill="#000"/>
<g font-family="Liberation Sans, sans-serif" shape-rendering="auto" text-rendering="geometricPrecision" style="paint-order:fill stroke" stroke="#fff" stroke-width="0.18">
<text x="40.20" y="24" font-size="17.0" fill="#000" stroke-width="0.22" textLength="40.60" lengthAdjust="spacingAndGlyphs">GOES</text>
<text x="89.70" y="24" font-size="17.0" fill="#000" stroke-width="0.22" textLength="63.60" lengthAdjust="spacingAndGlyphs">Electron</text>
<text x="161.70" y="24" font-size="17.0" fill="#000" stroke-width="0.22" textLength="30.10" lengthAdjust="spacingAndGlyphs">Flux</text>
<text x="201.20" y="24" font-size="17.0" fill="#000" stroke-width="0.22" textLength="17.60" lengthAdjust="spacingAndGlyphs">(5</text>
<text x="226.70" y="24" font-size="17.0" fill="#000" stroke-width="0.22" textLength="53.60" lengthAdjust="spacingAndGlyphs">minute</text>
<text x="288.20" y="24" font-size="17.0" fill="#000" stroke-width="0.22" textLength="41.60" lengthAdjust="spacingAndGlyphs">data)</text>
<text x="423.05" y="29" font-size="15.3" fill="#000" stroke-width="0.14" textLength="43.60" lengthAdjust="spacingAndGlyphs">Begin:</text>
<text x="474.30" y="29" font-size="15.3" fill="#000" stroke-width="0.14" textLength="37.50" lengthAdjust="spacingAndGlyphs">2010</text>
<text x="519.30" y="29" font-size="15.3" fill="#000" stroke-width="0.14" textLength="23.85" lengthAdjust="spacingAndGlyphs">Feb</text>
<text x="551.70" y="29" font-size="15.3" fill="#000" stroke-width="0.14" textLength="9.50" lengthAdjust="spacingAndGlyphs">8</text>
<text x="568.30" y="29" font-size="15.3" fill="#000" stroke-width="0.14" textLength="37.00" lengthAdjust="spacingAndGlyphs">0000</text>
<text x="612.95" y="29" font-size="15.3" fill="#000" stroke-width="0.14" textLength="26.45" lengthAdjust="spacingAndGlyphs">UTC</text>
<text x="0.95" y="475" font-size="15.3" fill="#000" stroke-width="0.14" textLength="58.45" lengthAdjust="spacingAndGlyphs">Updated</text>
<text x="67.00" y="475" font-size="15.3" fill="#000" stroke-width="0.14" textLength="36.60" lengthAdjust="spacingAndGlyphs">2010</text>
<text x="111.90" y="475" font-size="15.3" fill="#000" stroke-width="0.14" textLength="22.80" lengthAdjust="spacingAndGlyphs">Feb</text>
<text x="145.30" y="475" font-size="15.3" fill="#000" stroke-width="0.14" textLength="17.40" lengthAdjust="spacingAndGlyphs">10</text>
<text x="170.90" y="475" font-size="15.3" fill="#000" stroke-width="0.14" textLength="64.40" lengthAdjust="spacingAndGlyphs">23:55:02</text>
<text x="243.80" y="475" font-size="15.3" fill="#000" stroke-width="0.14" textLength="26.10" lengthAdjust="spacingAndGlyphs">UTC</text>
<text x="425.20" y="475" font-size="15.3" fill="#000" stroke-width="0.14" textLength="85.80" lengthAdjust="spacingAndGlyphs">NOAA/SWPC</text>
<text x="519.70" y="475" font-size="15.3" fill="#000" stroke-width="0.14" textLength="57.50" lengthAdjust="spacingAndGlyphs">Boulder,</text>
<text x="584.50" y="475" font-size="15.3" fill="#000" stroke-width="0.14" textLength="20.55" lengthAdjust="spacingAndGlyphs">CO</text>
<text x="613.10" y="475" font-size="15.3" fill="#000" stroke-width="0.14" textLength="27.40" lengthAdjust="spacingAndGlyphs">USA</text>
<text x="276.20" y="454" font-size="14.0" fill="#000" stroke-width="0.14" textLength="59.00" lengthAdjust="spacingAndGlyphs">Universal</text>
<text x="341.80" y="454" font-size="14.0" fill="#000" stroke-width="0.14" textLength="30.20" lengthAdjust="spacingAndGlyphs">Time</text>
<text x="53.00" y="438" font-size="14.2" fill="#000" stroke-width="0.14" textLength="22.80" lengthAdjust="spacingAndGlyphs">Feb</text>
<text x="83.40" y="438" font-size="14.2" fill="#000" stroke-width="0.14" textLength="7.80" lengthAdjust="spacingAndGlyphs">8</text>
<text x="221.00" y="438" font-size="14.2" fill="#000" stroke-width="0.14" textLength="22.80" lengthAdjust="spacingAndGlyphs">Feb</text>
<text x="251.40" y="438" font-size="14.2" fill="#000" stroke-width="0.14" textLength="7.80" lengthAdjust="spacingAndGlyphs">9</text>
<text x="385.00" y="438" font-size="14.2" fill="#000" stroke-width="0.14" textLength="22.80" lengthAdjust="spacingAndGlyphs">Feb</text>
<text x="414.50" y="438" font-size="14.2" fill="#000" stroke-width="0.14" textLength="17.60" lengthAdjust="spacingAndGlyphs">10</text>
<text x="553.00" y="438" font-size="14.2" fill="#000" stroke-width="0.14" textLength="22.80" lengthAdjust="spacingAndGlyphs">Feb</text>
<text x="583.50" y="438" font-size="14.2" fill="#000" stroke-width="0.14" textLength="14.80" lengthAdjust="spacingAndGlyphs">11</text>
<text x="130.20" y="55" font-size="14.8" fill="#ff0000" stroke-width="0.06" textLength="9.60" lengthAdjust="spacingAndGlyphs">M</text>
<text x="215.40" y="55" font-size="14.8" fill="#ff0000" stroke-width="0.06" textLength="8.40" lengthAdjust="spacingAndGlyphs">N</text>
<text x="298.20" y="55" font-size="14.8" fill="#ff0000" stroke-width="0.06" textLength="9.60" lengthAdjust="spacingAndGlyphs">M</text>
<text x="383.40" y="55" font-size="14.8" fill="#ff0000" stroke-width="0.06" textLength="8.40" lengthAdjust="spacingAndGlyphs">N</text>
<text x="466.20" y="55" font-size="14.8" fill="#ff0000" stroke-width="0.06" textLength="9.60" lengthAdjust="spacingAndGlyphs">M</text>
<text x="551.40" y="55" font-size="14.8" fill="#ff0000" stroke-width="0.06" textLength="8.40" lengthAdjust="spacingAndGlyphs">N</text>
<text x="44.20" y="46" font-size="17.0" fill="#000" stroke-width="0.22" textLength="18.60" lengthAdjust="spacingAndGlyphs">10</text>
<text x="62.70" y="38.7" font-size="9.3" fill="#000" stroke-width="0" textLength="5.60" lengthAdjust="spacingAndGlyphs">7</text>
<text x="44.20" y="90" font-size="17.0" fill="#000" stroke-width="0.22" textLength="18.60" lengthAdjust="spacingAndGlyphs">10</text>
<text x="62.70" y="82.7" font-size="9.3" fill="#000" stroke-width="0" textLength="5.60" lengthAdjust="spacingAndGlyphs">6</text>
<text x="44.20" y="138" font-size="17.0" fill="#000" stroke-width="0.22" textLength="18.60" lengthAdjust="spacingAndGlyphs">10</text>
<text x="62.70" y="130.7" font-size="9.3" fill="#000" stroke-width="0" textLength="5.60" lengthAdjust="spacingAndGlyphs">5</text>
<text x="44.20" y="186" font-size="17.0" fill="#000" stroke-width="0.22" textLength="18.60" lengthAdjust="spacingAndGlyphs">10</text>
<text x="62.70" y="178.7" font-size="9.3" fill="#000" stroke-width="0" textLength="5.60" lengthAdjust="spacingAndGlyphs">4</text>
<text x="44.20" y="234" font-size="17.0" fill="#000" stroke-width="0.22" textLength="18.60" lengthAdjust="spacingAndGlyphs">10</text>
<text x="62.70" y="226.7" font-size="9.3" fill="#000" stroke-width="0" textLength="5.60" lengthAdjust="spacingAndGlyphs">3</text>
<text x="44.20" y="282" font-size="17.0" fill="#000" stroke-width="0.22" textLength="18.60" lengthAdjust="spacingAndGlyphs">10</text>
<text x="62.70" y="274.7" font-size="9.3" fill="#000" stroke-width="0" textLength="5.60" lengthAdjust="spacingAndGlyphs">2</text>
<text x="44.20" y="330" font-size="17.0" fill="#000" stroke-width="0.22" textLength="18.60" lengthAdjust="spacingAndGlyphs">10</text>
<text x="62.70" y="322.7" font-size="9.3" fill="#000" stroke-width="0" textLength="5.60" lengthAdjust="spacingAndGlyphs">1</text>
<text x="44.20" y="378" font-size="17.0" fill="#000" stroke-width="0.22" textLength="18.60" lengthAdjust="spacingAndGlyphs">10</text>
<text x="62.70" y="370.7" font-size="9.3" fill="#000" stroke-width="0" textLength="5.60" lengthAdjust="spacingAndGlyphs">0</text>
<text x="38.20" y="419" font-size="17.0" fill="#000" stroke-width="0.22" textLength="18.60" lengthAdjust="spacingAndGlyphs">10</text>
<text x="56.70" y="411.7" font-size="9.3" fill="#000" stroke-width="0" textLength="5.60" lengthAdjust="spacingAndGlyphs">-</text>
<text x="62.20" y="411.7" font-size="9.3" fill="#000" stroke-width="0" textLength="4.60" lengthAdjust="spacingAndGlyphs">1</text>
<text transform="translate(20.3,334.30) rotate(-90)" font-size="17.4" fill="#000" stroke-width="0.22" textLength="77.10" lengthAdjust="spacingAndGlyphs">Particles</text>
<text transform="translate(20.3,246.80) rotate(-90)" font-size="17.4" fill="#000" stroke-width="0.22" textLength="27.30" lengthAdjust="spacingAndGlyphs">cm</text>
<text transform="translate(11.3,219.20) rotate(-90)" font-size="10.5" fill="#000" stroke-width="0" textLength="11.00" lengthAdjust="spacingAndGlyphs">-2</text>
<text transform="translate(20.3,208.55) rotate(-90)" font-size="17.4" fill="#000" stroke-width="0.22" textLength="10.35" lengthAdjust="spacingAndGlyphs">s</text>
<text transform="translate(11.3,199.20) rotate(-90)" font-size="10.5" fill="#000" stroke-width="0" textLength="10.60" lengthAdjust="spacingAndGlyphs">-1</text>
<text transform="translate(20.3,188.30) rotate(-90)" font-size="17.4" fill="#000" stroke-width="0.22" textLength="21.10" lengthAdjust="spacingAndGlyphs">sr</text>
<text transform="translate(11.3,166.80) rotate(-90)" font-size="10.5" fill="#000" stroke-width="0" textLength="11.10" lengthAdjust="spacingAndGlyphs">-1</text>
<text transform="translate(603.3,407.80) rotate(-90)" font-size="17.4" fill="#000" stroke-width="0.22" textLength="61.60" lengthAdjust="spacingAndGlyphs">GOES11</text>
<text transform="translate(603.3,310.80) rotate(-90)" font-size="17.4" fill="#5500aa" stroke-width="0.06" textLength="37.10" lengthAdjust="spacingAndGlyphs">&gt;=2</text>
<text transform="translate(603.3,262.80) rotate(-90)" font-size="17.4" fill="#ff0000" stroke-width="0.06" textLength="53.60" lengthAdjust="spacingAndGlyphs">&gt;=0.6</text>
<text transform="translate(603.3,191.10) rotate(-90)" font-size="17.4" fill="#000" stroke-width="0.22" textLength="33.15" lengthAdjust="spacingAndGlyphs">MeV</text>
</g>
</svg>
</body></html>
